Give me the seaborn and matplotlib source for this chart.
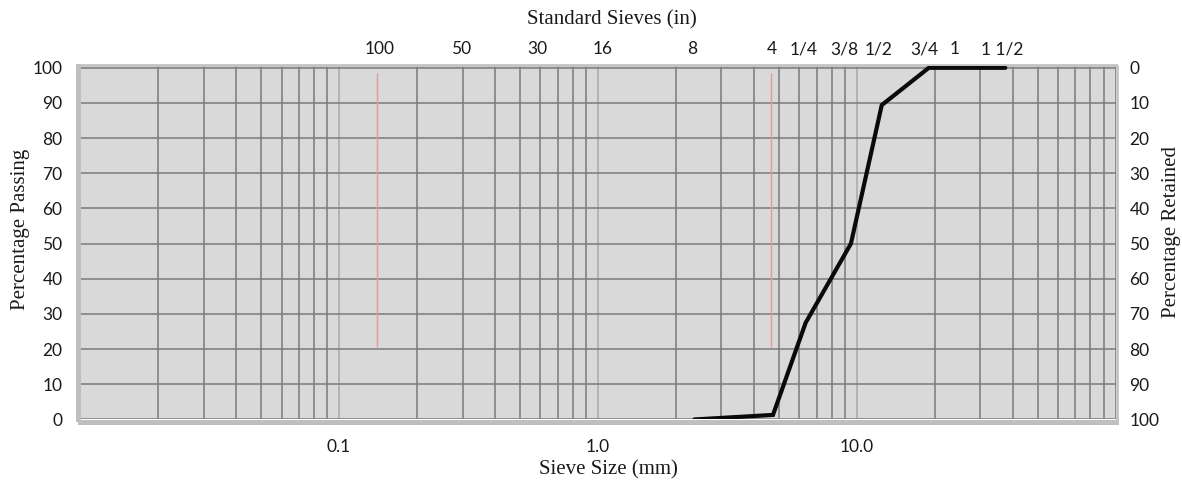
import matplotlib
matplotlib.use("Agg")
import matplotlib.pyplot as plt
import numpy as np
import pandas as pd
import seaborn as sns
from matplotlib.ticker import FixedLocator, NullFormatter, NullLocator, FuncFormatter

# Gradation curve: sieve opening (mm) vs. cumulative percentage passing
sieve_size_mm = [2.36, 4.75, 6.35, 9.5, 12.5, 19.0, 37.5]
percent_passing = [0.0, 1.3, 27.5, 50.0, 89.4, 100.0, 100.0]

# Standard sieve designations shown along the top axis (opening in mm)
sieve_names = ["100", "50", "30", "16", "8", "4", "1/4", "3/8", "1/2", "3/4", "1", "1 1/2"]
sieve_label_mm = [0.144, 0.295, 0.586, 1.04, 2.32, 4.72, 6.26, 8.94, 12.2, 18.2, 23.8, 36.6]

# Reference markers (thin red verticals)
marker_mm = [0.14, 4.65]
marker_span = [20.5, 98.6]

x_range = [0.01, 100]
y_ticks = list(range(0, 101, 10))
x_labelled = [0.1, 1.0, 10.0]

sns.set_style("white")
plt.rcParams["font.family"] = ["Lato", "DejaVu Sans"]
SERIF = ["Liberation Serif", "DejaVu Serif"]
TICK_SIZE = 12.5

fig = plt.figure(figsize=(11.82, 4.83), dpi=100)
ax = fig.add_axes([0.06785, 0.1315, 0.8759, 0.7325])
ax.set_facecolor("#d9d9d9")

ax.set_xscale("log")
ax.set_xlim(*x_range)
ax.set_ylim(0, 100.6)

# Gridlines: decade lines lighter, intermediate lines darker
majors = [0.1, 1.0, 10.0]
minors = [m * 10.0 ** e for e in range(-2, 2) for m in range(1, 10)]
minors = [v for v in minors if not any(np.isclose(v, mj) for mj in majors)] + [100.0]
ax.xaxis.set_major_locator(FixedLocator(majors))
ax.xaxis.set_minor_locator(FixedLocator(minors))
ax.xaxis.set_major_formatter(FuncFormatter(lambda v, p: f"{v:.1f}" if any(np.isclose(v, t) for t in x_labelled) else ""))
ax.xaxis.set_minor_formatter(NullFormatter())
ax.set_yticks(y_ticks)

ax.grid(True, which="minor", axis="x", color="#7a7a7a", linewidth=1.1)
ax.grid(True, which="major", axis="x", color="#a8a8a8", linewidth=1.1)
ax.grid(True, which="major", axis="y", color="#7a7a7a", linewidth=1.1)
ax.set_axisbelow(True)

ax.tick_params(axis="both", which="both", length=0, labelsize=TICK_SIZE, colors="#1a1a1a")
ax.tick_params(axis="y", pad=11)
ax.tick_params(axis="x", pad=12)

for side in ["left", "bottom"]:
    ax.spines[side].set_color("#bfbfbf")
    ax.spines[side].set_linewidth(3.6)
    ax.spines[side].set_position(("outward", 1.8))
for side in ["top", "right"]:
    ax.spines[side].set_color("#c4c4c4")
    ax.spines[side].set_linewidth(2.0)
    ax.spines[side].set_position(("outward", 0.8))

ax.vlines(marker_mm, marker_span[0], marker_span[1], color="#e39a9a", linewidth=1.0, zorder=3)

df = pd.DataFrame({"size": sieve_size_mm, "passing": percent_passing})
sns.lineplot(data=df, x="size", y="passing", ax=ax, color="#0a0a0a", linewidth=3.0,
             sort=False, estimator=None, zorder=5, solid_joinstyle="miter")

ax.set_xlabel("Sieve Size (mm)", family=SERIF, fontsize=15, color="#1a1a1a")
ax.xaxis.set_label_coords(0.51, -0.1427)
ax.xaxis.label.set_va("center")
ax.set_ylabel("Percentage Passing", family=SERIF, fontsize=15, color="#1a1a1a")
ax.yaxis.set_label_coords(-0.058, 0.537)
ax.yaxis.label.set_va("center")

# Right axis: percentage retained (complement of passing)
ax2 = ax.twinx()
ax2.set_ylim(100, -0.6)
ax2.set_yticks(y_ticks)
ax2.tick_params(axis="y", length=0, labelsize=TICK_SIZE, pad=10, colors="#1a1a1a")
for s in ax2.spines.values():
    s.set_visible(False)
ax2.set_ylabel("Percentage Retained", family=SERIF, fontsize=15, color="#1a1a1a")
ax2.yaxis.set_label_coords(1.0537, 0.531)
ax2.yaxis.label.set_va("center")

# Top axis: standard sieve designations
ax3 = ax.twiny()
ax3.set_xscale("log")
ax3.set_xlim(*x_range)
ax3.xaxis.set_major_locator(FixedLocator(sieve_label_mm))
ax3.xaxis.set_minor_locator(NullLocator())
ax3.set_xticklabels(sieve_names)
ax3.tick_params(axis="x", length=0, labelsize=TICK_SIZE, pad=6, colors="#1a1a1a")
for s in ax3.spines.values():
    s.set_visible(False)
ax3.set_xlabel("Standard Sieves (in)", family=SERIF, fontsize=15, color="#1a1a1a")
ax3.xaxis.set_label_coords(0.5137, 1.129)
ax3.xaxis.label.set_va("center")

fig.savefig("out.png", dpi=100, facecolor="white")
